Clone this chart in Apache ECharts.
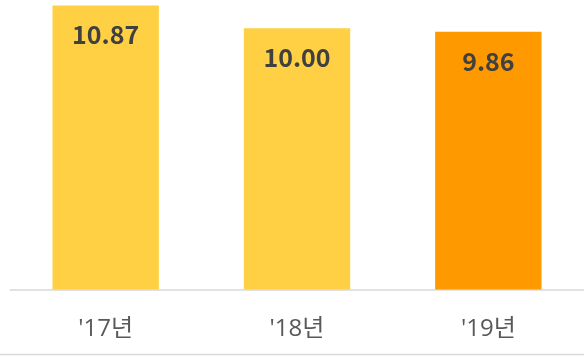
<!DOCTYPE html>
<html>
<head>
<meta charset="utf-8">
<script src="https://cdn.jsdelivr.net/npm/echarts@6/dist/echarts.min.js"></script>
<style>
html,body{margin:0;padding:0;background:#fff;}
#c{width:584px;height:356px;}
</style>
</head>
<body>
<div id="c"></div>
<script>
const categories = ["'17년", "'18년", "'19년"];
const values = [10.87, 10.00, 9.86];
const barColors = ["#FFD043", "#FFD043", "#FF9900"];

const chart = echarts.init(document.getElementById('c'), null, {renderer: 'canvas'});
chart.setOption({
  animation: false,
  grid: {left: 10, right: -4, top: 2, bottom: 66.5, containLabel: false},
  xAxis: {
    type: 'category',
    data: categories,
    axisLine: {show: true, lineStyle: {color: '#D9D9D9', width: 1.5}},
    axisTick: {show: false},
    axisLabel: {
      color: '#595959',
      fontSize: 24,
      fontFamily: '"Open Sans", "Noto Sans CJK KR"',
      margin: 28
    }
  },
  yAxis: {
    type: 'value',
    min: 0,
    max: 11,
    show: false,
    splitLine: {show: false}
  },
  graphic: [{
    type: 'line',
    shape: {x1: 0, y1: 354.5, x2: 584, y2: 354.5},
    style: {stroke: '#D9D9D9', lineWidth: 1.5}
  }],
  series: [{
    type: 'bar',
    barWidth: '55.6%',
    data: values.map((v, i) => ({value: v, itemStyle: {color: barColors[i]}})),
    label: {
      show: true,
      position: 'insideTop',
      distance: 17,
      formatter: p => p.value.toFixed(2),
      color: '#404040',
      fontSize: 25,
      fontWeight: 'bold',
      fontFamily: 'Noto Sans CJK KR'
    }
  }]
});
</script>
</body>
</html>
